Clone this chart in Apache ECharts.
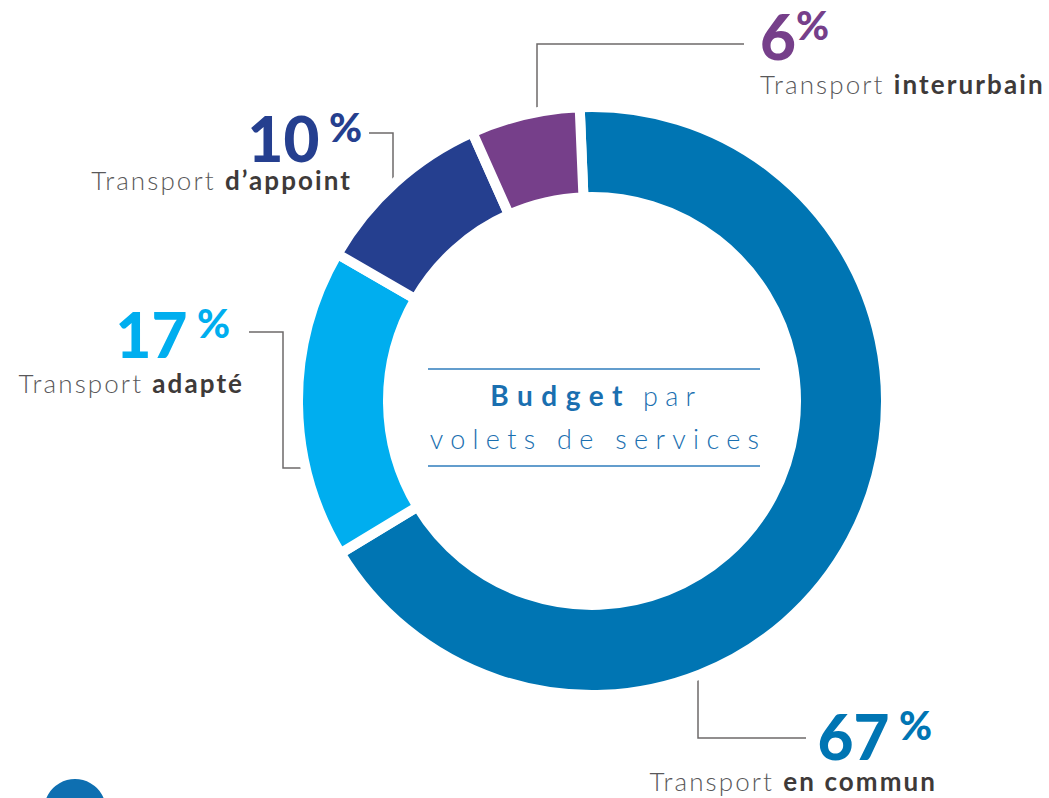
<!DOCTYPE html>
<html>
<head>
<meta charset="utf-8">
<script src="https://cdn.jsdelivr.net/npm/echarts@6/dist/echarts.min.js"></script>
<style>
    html, body { margin: 0; padding: 0; background: #fff; }
    #box { width: 1049px; height: 798px; }
    /* espacement des lettres (rendu svg) */
    #box text[style*="SpacedA"] { letter-spacing: 8.5px; }
    #box text[style*="SpacedB"] { letter-spacing: 7.3px; }
    #box text[style*="SpacedC"] { letter-spacing: 2.1px; }
</style>
</head>
<body>
<div id="box"></div>
<script>
// données
var services = ['en commun', 'adapté', 'd’appoint', 'interurbain'];
var values = [67, 17, 10, 6];
var colors = ['#0075b3', '#00aeef', '#253f8f', '#763f8a'];
var titleBold = 'Budget';
var titleRest = 'par';
var titleLine2 = 'volets de services';

var SP = 2.1; // letter-spacing des libellés (voir css SpacedC)

// position des étiquettes : fin du chiffre (t1), fin du texte (t2), haut, écart entre lignes
var labelPos = [
    { align: 'right', t1: 932, t2: 935, y: 705, gap: 58, sep: ' ', line: [[698, 647], [698, 738], [806, 738]] },
    { align: 'right', t1: 230, t2: 242, y: 303, gap: 62, sep: ' ', line: [[343, 468], [283, 468], [283, 332], [249, 332]] },
    { align: 'right', t1: 362, t2: 350, y: 107, gap: 55, sep: ' ', line: [[393, 232], [393, 133], [369, 133]] },
    { align: 'left', x: 760, y: 5, gap: 61, sep: '', line: [[537, 165], [537, 44], [744, 44]] }
];

var myChart = echarts.init(document.getElementById('box'), null, { renderer: 'svg' });

var data = [];
for (var i = 0; i < values.length; i++) {
    var L = labelPos[i];
    var nBold = services[i].length;
    var txtLH = 36 + 2 * (L.gap - 62);
    var padPct = 0, padReg = [0, 0, 0, 0], padBold = [0, 0, 0, 0];
    if (L.align === 'right') {
        L.x = Math.max(L.t1, L.t2 + SP);
        padPct = L.x - L.t1;
        padBold = [0, L.x - SP - L.t2, 0, nBold * SP];
    } else {
        padReg = [0, 10 * SP, 0, 0];
    }
    data.push({
        value: values[i],
        name: 'Transport ' + services[i],
        itemStyle: { color: colors[i] },
        label: {
            color: colors[i],
            rich: {
                pct: { padding: [0, padPct, 0, 0] },
                reg: { padding: padReg, lineHeight: txtLH },
                bold: { padding: padBold, lineHeight: txtLH }
            }
        }
    });
}

var option = {
    animation: false,
    backgroundColor: '#fff',
    series: [
        {
            type: 'pie',
            center: [592, 401],
            radius: [204, 294],
            startAngle: 92.4,
            clockwise: true,
            avoidLabelOverlap: false,
            itemStyle: {
                borderColor: '#fff',
                borderWidth: 10,
                borderJoin: 'miter'
            },
            emphasis: { disabled: true },
            label: {
                show: true,
                position: 'outside',
                fontFamily: 'Lato',
                formatter: function (p) {
                    var L = labelPos[p.dataIndex];
                    return '{num|' + p.value + '}{pct|' + L.sep + '%}\n{reg|Transport }{bold|' + services[p.dataIndex] + '}';
                },
                rich: {
                    num: { fontFamily: 'Lato', fontSize: 62, fontWeight: 900, lineHeight: 62 },
                    pct: { fontFamily: 'Lato', fontSize: 40, fontWeight: 900, lineHeight: 40, verticalAlign: 'top' },
                    reg: { fontFamily: 'Lato, SpacedC', fontSize: 26, fontWeight: 300, lineHeight: 36, color: '#59585a' },
                    bold: { fontFamily: 'Lato, SpacedC', fontSize: 26, fontWeight: 'bold', lineHeight: 36, color: '#3e3a39' }
                }
            },
            labelLine: {
                show: true,
                smooth: false,
                lineStyle: { color: '#6d6a6a', width: 1.5 }
            },
            labelLayout: function (params) {
                var L = labelPos[params.dataIndex];
                return {
                    x: L.x,
                    y: L.y,
                    align: L.align,
                    verticalAlign: 'top',
                    labelLinePoints: L.line
                };
            },
            data: data
        }
    ],
    graphic: [
        { type: 'line', shape: { x1: 428, y1: 369, x2: 760, y2: 369 }, style: { stroke: '#2f7cbc', lineWidth: 1.5 } },
        { type: 'line', shape: { x1: 428, y1: 466, x2: 760, y2: 466 }, style: { stroke: '#2f7cbc', lineWidth: 1.5 } },
        {
            type: 'text', x: 631, y: 395,
            style: { text: titleBold, align: 'right', verticalAlign: 'middle', fontSize: 28, fontWeight: 'bold', fontFamily: 'Lato, SpacedA', fill: '#1a6fb0' }
        },
        {
            type: 'text', x: 643, y: 395,
            style: { text: titleRest, align: 'left', verticalAlign: 'middle', fontSize: 27, fontWeight: 300, fontFamily: 'Lato, SpacedB', fill: '#1a6fb0' }
        },
        {
            type: 'text', x: 598, y: 438,
            style: { text: titleLine2, align: 'center', verticalAlign: 'middle', fontSize: 27, fontWeight: 300, fontFamily: 'Lato, SpacedB', fill: '#1a6fb0' }
        },
        { type: 'circle', shape: { cx: 75, cy: 810, r: 31 }, style: { fill: '#0e6fb1' } }
    ]
};
myChart.setOption(option);
</script>
</body>
</html>
